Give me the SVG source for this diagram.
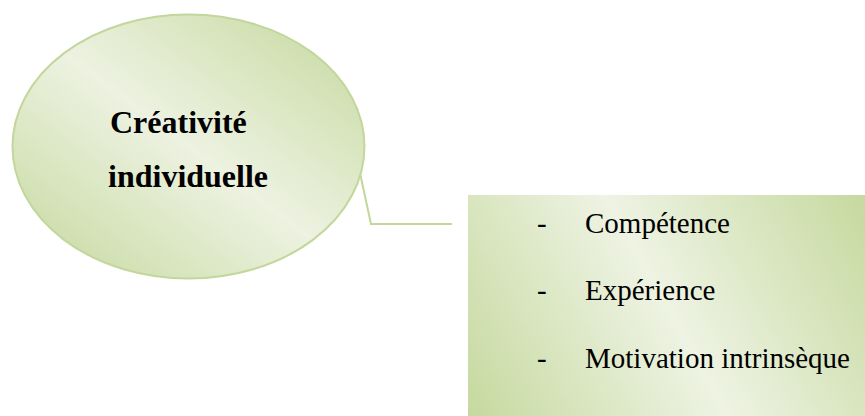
<svg xmlns="http://www.w3.org/2000/svg" width="865" height="416" viewBox="0 0 865 416">
<defs>
<linearGradient id="gE" x1="0" y1="1" x2="1" y2="0">
<stop offset="0" stop-color="#c4d89c"/>
<stop offset="0.5" stop-color="#edf2e1"/>
<stop offset="1" stop-color="#c4d89c"/>
</linearGradient>
<linearGradient id="gR" gradientUnits="userSpaceOnUse" x1="468" y1="416" x2="865" y2="195">
<stop offset="0" stop-color="#c6d99f"/>
<stop offset="0.5" stop-color="#eef3e3"/>
<stop offset="1" stop-color="#c6d99f"/>
</linearGradient>
<style>
.bold{font-family:"Liberation Serif","Times New Roman",serif;font-weight:bold;font-size:32px;fill:#000}
.item{font-family:"Liberation Serif","Times New Roman",serif;font-size:29px;fill:#000}
.conn{fill:none;stroke:#c3d69b;stroke-width:2}
</style>
</defs>
<g id="connectors">
<path class="conn" d="M360 173 L371 224 L452 224"/>
</g>
<g id="node-creativite">
<ellipse cx="188.5" cy="146.5" rx="176" ry="132" fill="url(#gE)" stroke="#c3d69b" stroke-width="2"/>
<text class="bold" x="110" y="133">Créativité</text>
<text class="bold" x="108" y="187">individuelle</text>
</g>
<g id="node-list">
<rect x="468" y="195" width="397" height="221" fill="url(#gR)"/>
<text class="item" x="537" y="233">-</text>
<text class="item" x="585" y="233">Compétence</text>
<text class="item" x="537" y="300">-</text>
<text class="item" x="585" y="300">Expérience</text>
<text class="item" x="537" y="368">-</text>
<text class="item" x="585" y="368">Motivation intrinsèque</text>
</g>
</svg>
